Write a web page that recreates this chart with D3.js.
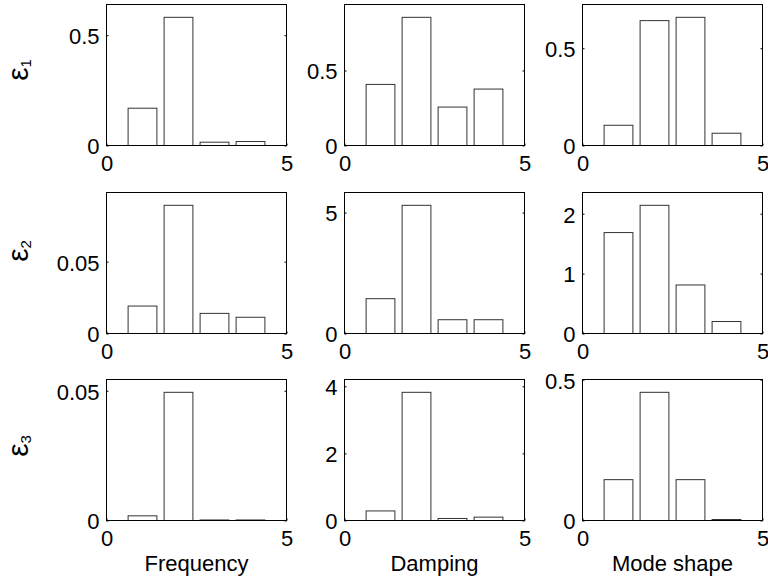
<!DOCTYPE html>
<html>
<head>
<meta charset="utf-8">
<script src="https://cdn.jsdelivr.net/npm/d3@7"></script>
<style>
  html, body { margin: 0; padding: 0; background: #fff; }
  svg { display: block; font-family: "Liberation Sans", Arial, sans-serif; }
</style>
</head>
<body>
<svg id="chart" width="768" height="581"></svg>
<script>
// Mode indices on the horizontal axis
const modes = [1, 2, 3, 4];

// Error indicators ε1, ε2, ε3 (rows) for each identified quantity (columns)
const frequencyErr = [
  [0.169, 0.581, 0.015, 0.018],
  [0.0191, 0.0892, 0.0140, 0.0113],
  [0.0018, 0.0494, 0.0002, 0.0002]
];
const dampingErr = [
  [0.407, 0.854, 0.256, 0.376],
  [1.44, 5.30, 0.57, 0.57],
  [0.285, 3.82, 0.06, 0.10]
];
const modeShapeErr = [
  [0.104, 0.642, 0.659, 0.063],
  [1.685, 2.14, 0.81, 0.20],
  [0.145, 0.455, 0.145, 0.0035]
];

// Y tick values per row (outer) and column (inner)
const yTickValues = [
  [[0, 0.5], [0, 0.5], [0, 0.5]],
  [[0, 0.05], [0, 5], [0, 1, 2]],
  [[0, 0.05], [0, 2, 4], [0, 0.5]]
];
const xTickValues = [0, 5];

const columnTitles = ["Frequency", "Damping", "Mode shape"];
const rowSubscripts = ["1", "2", "3"];

const columns = [frequencyErr, dampingErr, modeShapeErr];

// Layout of the 3x3 grid of axes
const colLeft = [106.5, 344.5, 582.5];
const rowTop = [4.5, 192.5, 379.5];
const axW = 180, axH = 141;
const labelCenterY = [70, 251, 446];

const svg = d3.select("#chart");
const fontSize = 22;
const tickLen = 2;

rowTop.forEach((top, r) => {
  colLeft.forEach((left, c) => {
    const vals = columns[c][r];
    const yMax = 1.1 * d3.max(vals);
    const x = d3.scaleLinear().domain([0, 5]).range([0, axW]);
    const y = d3.scaleLinear().domain([0, yMax]).range([axH, 0]);

    const g = svg.append("g").attr("transform", `translate(${left},${top})`);

    // bars, width 0.8 centred on each mode
    g.selectAll("rect.bar")
      .data(vals)
      .enter().append("rect")
      .attr("class", "bar")
      .attr("x", (d, i) => x(modes[i] - 0.4))
      .attr("width", x(0.8) - x(0))
      .attr("y", d => y(d))
      .attr("height", d => y(0) - y(d))
      .attr("fill", "#fff")
      .attr("stroke", "#333")
      .attr("stroke-width", 1);

    // y axis (left), ticks inward, labels outside
    const yAxis = d3.axisLeft(y)
      .tickValues(yTickValues[r][c])
      .tickSizeInner(-tickLen)
      .tickSizeOuter(0)
      .tickPadding(5 + tickLen)
      .tickFormat(d => String(d));
    const ya = g.append("g").call(yAxis);
    ya.select(".domain").remove();
    ya.selectAll(".tick line").attr("stroke", "#000");
    ya.selectAll(".tick text")
      .attr("font-size", fontSize)
      .attr("font-family", "Liberation Sans, Arial, sans-serif")
      .attr("fill", "#000")
      .attr("dy", "0.38em");

    // mirrored tick marks on the right edge
    const yr = g.append("g").attr("transform", `translate(${axW},0)`)
      .call(d3.axisRight(y).tickValues(yTickValues[r][c]).tickSizeInner(-tickLen).tickSizeOuter(0).tickFormat(""));
    yr.select(".domain").remove();
    yr.selectAll(".tick line").attr("stroke", "#000");

    // x axis (bottom)
    const xAxis = d3.axisBottom(x)
      .tickValues(xTickValues)
      .tickSizeInner(-tickLen)
      .tickSizeOuter(0)
      .tickPadding(10)
      .tickFormat(d => String(d));
    const xa = g.append("g").attr("transform", `translate(0,${axH})`).call(xAxis);
    xa.select(".domain").remove();
    xa.selectAll(".tick line").attr("stroke", "#000");
    xa.selectAll(".tick text")
      .attr("font-size", fontSize)
      .attr("font-family", "Liberation Sans, Arial, sans-serif")
      .attr("fill", "#000");

    // axes box
    g.append("rect")
      .attr("x", 0).attr("y", 0)
      .attr("width", axW).attr("height", axH)
      .attr("fill", "none")
      .attr("stroke", "#000")
      .attr("stroke-width", 1);

    // column title under the bottom row
    if (r === rowTop.length - 1) {
      svg.append("text")
        .attr("x", left + axW / 2)
        .attr("y", top + axH + 50)
        .attr("text-anchor", "middle")
        .attr("font-size", fontSize)
        .attr("fill", "#000")
        .text(columnTitles[c]);
    }
  });

  // row label ε with subscript, rotated
  const t = svg.append("text")
    .attr("transform", `translate(28,${labelCenterY[r]}) rotate(-90)`)
    .attr("text-anchor", "middle")
    .attr("font-size", 30)
    .attr("fill", "#000");
  t.append("tspan").text("ε");
  t.append("tspan")
    .attr("font-size", 15)
    .attr("dy", "0.2em")
    .text(rowSubscripts[r]);
});
</script>
</body>
</html>
